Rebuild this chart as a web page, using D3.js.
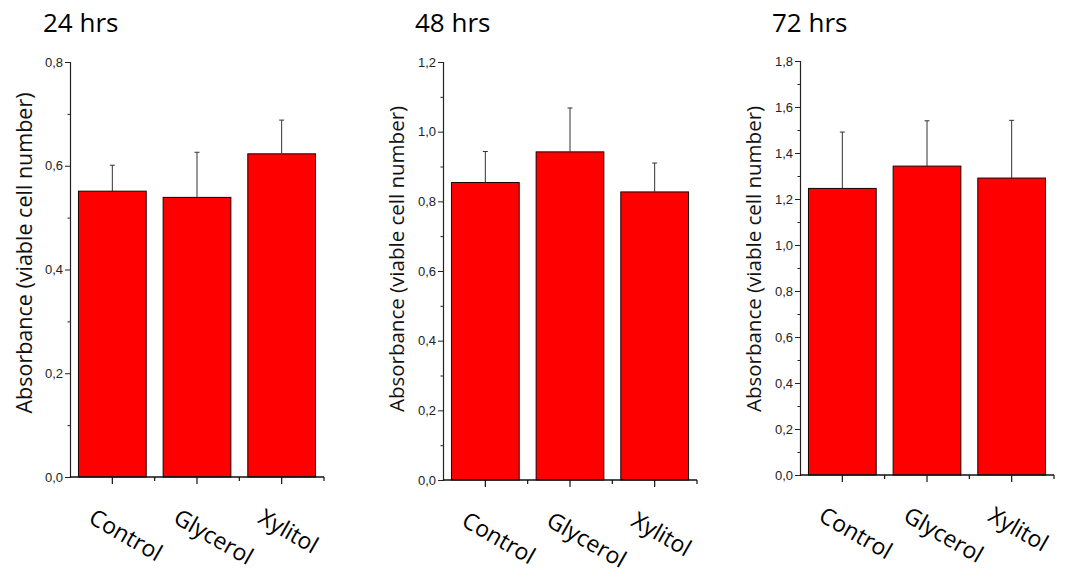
<!DOCTYPE html>
<html>
<head>
<meta charset="utf-8">
<script src="https://cdn.jsdelivr.net/npm/d3@7"></script>
<style>
  html, body { margin: 0; padding: 0; background: #fff; }
  svg { display: block; }
  .tick-label { font-family: "Liberation Sans Narrow", "Arial Narrow", "Liberation Sans", sans-serif; font-stretch: condensed; font-size: 13px; fill: #222; }
  .title { font-family: "Open Sans", sans-serif; font-size: 26px; fill: #000; }
  .ytitle { font-family: "Open Sans", sans-serif; fill: #111; }
  .cat { font-family: "Open Sans", sans-serif; font-size: 23px; fill: #000; }
</style>
</head>
<body>
<svg id="chart" width="1065" height="578"></svg>
<script>
// Cell viability (absorbance) after 24, 48 and 72 hours of treatment
const categories = ["Control", "Glycerol", "Xylitol"];
const timepoints = ["24 hrs", "48 hrs", "72 hrs"];

const mean24 = [0.551, 0.539, 0.623];
const err24  = [0.050, 0.087, 0.065];
const mean48 = [0.854, 0.942, 0.827];
const err48  = [0.089, 0.126, 0.083];
const mean72 = [1.246, 1.343, 1.291];
const err72  = [0.245, 0.197, 0.251];

const yMax = [0.8, 1.2, 1.8];
const yTitle = "Absorbance (viable cell number)";

const svg = d3.select("#chart");

// frame of each panel: axis origin and plot extent
const frames = [
  { left: 70,  top: 62, bottom: 477, titleX: 43,  titleFont: 21.5, titleMid: 253 },
  { left: 443, top: 62, bottom: 480, titleX: 415, titleFont: 20.5, titleMid: 259 },
  { left: 800, top: 61, bottom: 475, titleX: 772, titleFont: 20.5, titleMid: 259 }
];
const plotW = 254;
const means = [mean24, mean48, mean72];
const errs = [err24, err48, err72];

const fmt = v => d3.format(".1f")(v).replace(".", ",");

frames.forEach((f, i) => {
  const g = svg.append("g");
  const x = d3.scaleBand().domain(categories)
    .range([f.left, f.left + plotW]).paddingInner(0.2).paddingOuter(0.1);
  const y = d3.scaleLinear().domain([0, yMax[i]]).range([f.bottom, f.top]);

  // panel heading
  g.append("text").attr("class", "title")
    .attr("x", f.titleX).attr("y", 32).text(timepoints[i]);

  // y-axis title
  g.append("text").attr("class", "ytitle")
    .attr("transform", `translate(${f.left - 47},${f.titleMid}) rotate(-90)`)
    .attr("text-anchor", "middle").attr("dominant-baseline", "central")
    .style("font-size", f.titleFont + "px")
    .text(yTitle);

  // bars
  const data = categories.map((c, k) => ({ c, m: means[i][k], e: errs[i][k] }));
  g.selectAll("rect.bar").data(data).enter().append("rect")
    .attr("class", "bar")
    .attr("x", d => x(d.c)).attr("width", x.bandwidth())
    .attr("y", d => y(d.m)).attr("height", d => y(0) - y(d.m))
    .attr("fill", "#ff0000").attr("stroke", "#1a0000").attr("stroke-width", 1);

  // upper error bars
  const eb = g.selectAll("g.err").data(data).enter().append("g").attr("class", "err")
    .attr("stroke", "#333").attr("stroke-width", 1);
  eb.append("line")
    .attr("x1", d => x(d.c) + x.bandwidth() / 2).attr("x2", d => x(d.c) + x.bandwidth() / 2)
    .attr("y1", d => y(d.m)).attr("y2", d => y(d.m + d.e));
  eb.append("line")
    .attr("x1", d => x(d.c) + x.bandwidth() / 2 - 2.5).attr("x2", d => x(d.c) + x.bandwidth() / 2 + 2.5)
    .attr("y1", d => y(d.m + d.e)).attr("y2", d => y(d.m + d.e));

  // y axis: major ticks with labels, minor ticks between
  const majors = d3.range(0, yMax[i] + 1e-9, 0.2);
  const minors = d3.range(0.1, yMax[i], 0.2);
  const yAxis = d3.axisLeft(y).tickValues(majors).tickSize(5).tickPadding(2).tickFormat(fmt);
  const ya = g.append("g").attr("transform", `translate(${f.left},0)`).call(yAxis);
  ya.select(".domain").attr("stroke", "#222").attr("stroke-width", 1.2);
  ya.selectAll(".tick line").attr("stroke", "#222");
  ya.selectAll(".tick text").attr("class", "tick-label").attr("fill", null);
  g.append("g").attr("transform", `translate(${f.left},0)`)
    .call(d3.axisLeft(y).tickValues(minors).tickSize(2.5).tickFormat(""))
    .call(s => s.select(".domain").remove())
    .selectAll(".tick line").attr("stroke", "#222");

  // x axis: long ticks at categories, short ticks at band boundaries
  const xa = g.append("g").attr("transform", `translate(0,${f.bottom})`);
  xa.append("line").attr("x1", f.left).attr("x2", f.left + plotW)
    .attr("stroke", "#111").attr("stroke-width", 1.5);
  xa.selectAll("line.major").data(categories).enter().append("line")
    .attr("x1", d => x(d) + x.bandwidth() / 2).attr("x2", d => x(d) + x.bandwidth() / 2)
    .attr("y1", 0).attr("y2", 7).attr("stroke", "#111").attr("stroke-width", 1.2);
  const bounds = [1, 2, 3].map(k => f.left + k * x.step());
  xa.selectAll("line.minor").data(bounds).enter().append("line")
    .attr("x1", d => d).attr("x2", d => d)
    .attr("y1", 0).attr("y2", 4).attr("stroke", "#111").attr("stroke-width", 1.2);

  // rotated category names
  g.selectAll("text.cat").data(categories).enter().append("text")
    .attr("class", "cat")
    .attr("transform", d => `translate(${x(d) + x.bandwidth() / 2 - 25},${f.bottom + 45}) rotate(30)`)
    .text(d => d);
});
</script>
</body>
</html>
